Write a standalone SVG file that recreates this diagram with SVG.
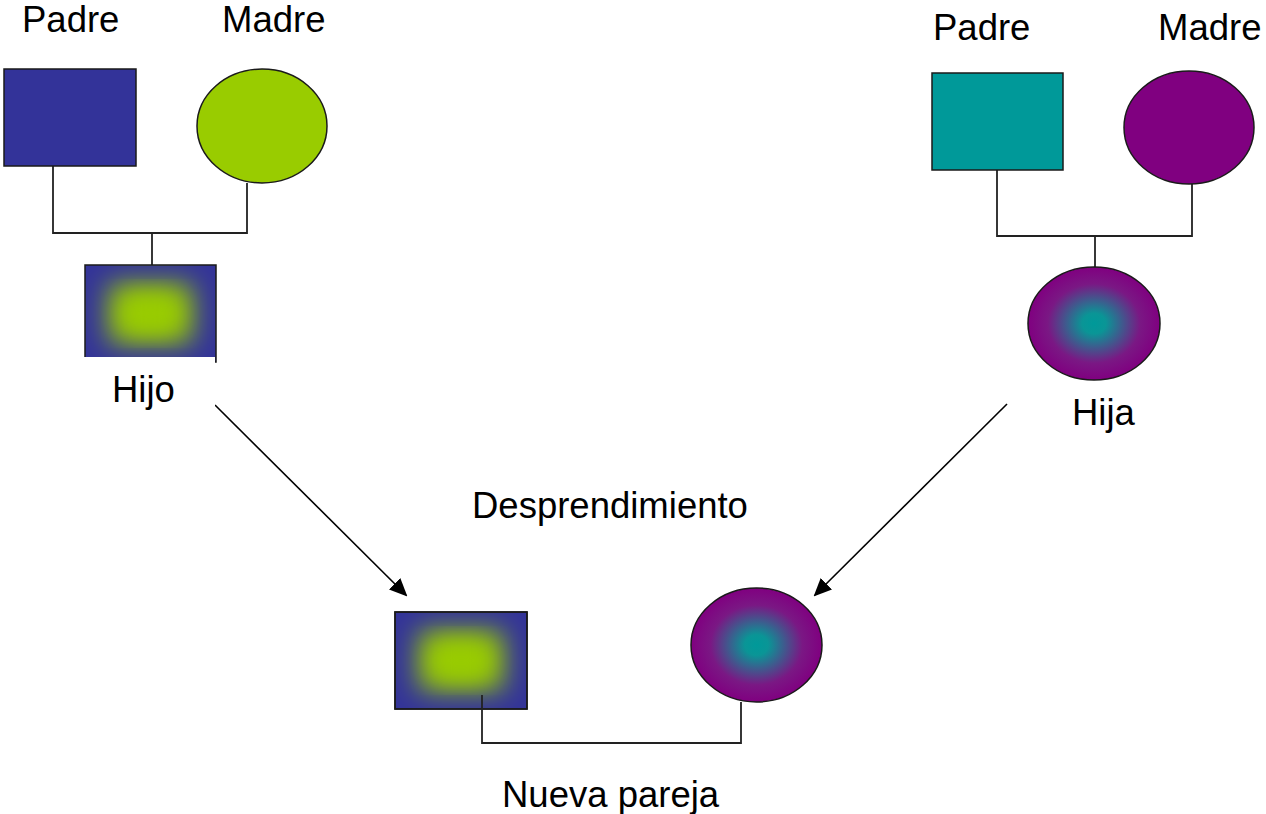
<svg xmlns="http://www.w3.org/2000/svg" width="1266" height="814" viewBox="0 0 1266 814">
  <style>
    .lbl { font-family: "Liberation Sans", Arial, sans-serif; font-size: 36.5px; fill: #000; }
    .shape { stroke: #1a1a1a; stroke-width: 1.5; }
    .conn { fill: none; stroke: #222; stroke-width: 1.8; }
    .arrow { fill: none; stroke: #000; stroke-width: 1.6; marker-end: url(#ah); }
  </style>
  <defs>
    <marker id="ah" markerWidth="18" markerHeight="16" refX="16" refY="8" orient="auto" markerUnits="userSpaceOnUse">
      <path d="M0,0 L18,8 L0,16 Z" fill="#000"/>
    </marker>
    <radialGradient id="hijaGrad" cx="0.5" cy="0.5" r="0.5">
      <stop offset="0" stop-color="#009999"/>
      <stop offset="0.18" stop-color="#0a9596"/>
      <stop offset="0.7" stop-color="#7a1884"/>
      <stop offset="1" stop-color="#800080"/>
    </radialGradient>
    <filter id="blur" x="-60%" y="-60%" width="220%" height="220%">
      <feGaussianBlur stdDeviation="14"/>
    </filter>
    <clipPath id="clipHijo"><rect x="85" y="265" width="131" height="97"/></clipPath>
    <clipPath id="clipHijo2"><rect x="395" y="612" width="132" height="97"/></clipPath>
  </defs>

  <rect width="1266" height="814" fill="#fff"/>

  <!-- connectors -->
  <g id="connectors">
    <path class="conn" d="M53,166 V233 H247 V183"/>
    <path class="conn" d="M152,233 V265"/>
    <path class="conn" d="M997,170 V236 H1192 V184"/>
    <path class="conn" d="M1095,236 V267"/>
    <line class="arrow" x1="215" y1="405" x2="406" y2="595"/>
    <line class="arrow" x1="1007" y1="404" x2="815" y2="595"/>
  </g>

  <g id="padre-izq">
    <rect class="shape" x="4" y="69" width="132" height="97" fill="#333399"/>
    <text class="lbl" x="22" y="32">Padre</text>
  </g>
  <g id="madre-izq">
    <ellipse class="shape" cx="262" cy="126" rx="65" ry="57" fill="#99cc00"/>
    <text class="lbl" x="222" y="32">Madre</text>
  </g>
  <g id="hijo">
    <rect class="shape" x="85" y="265" width="131" height="97" fill="#333399"/>
    <g clip-path="url(#clipHijo)">
      <rect x="109" y="284" width="83" height="59" fill="#99cc00" filter="url(#blur)"/>
      <rect x="128" y="298" width="45" height="31" fill="#99cc00" filter="url(#blur)"/>
    </g>
    <rect x="68" y="357" width="147" height="55" fill="#fff"/>
    <text class="lbl" x="112" y="402">Hijo</text>
  </g>

  <g id="padre-der">
    <rect class="shape" x="932" y="73" width="131" height="97" fill="#009999"/>
    <text class="lbl" x="933" y="40">Padre</text>
  </g>
  <g id="madre-der">
    <ellipse class="shape" cx="1189" cy="127.5" rx="65" ry="56.5" fill="#800080"/>
    <text class="lbl" x="1158" y="40">Madre</text>
  </g>
  <g id="hija">
    <ellipse class="shape" cx="1094" cy="323.5" rx="66" ry="56.5" fill="url(#hijaGrad)"/>
    <text class="lbl" x="1072" y="425">Hija</text>
  </g>

  <g id="desprendimiento">
    <text class="lbl" x="472" y="518">Desprendimiento</text>
  </g>

  <g id="pareja-hijo">
    <rect class="shape" x="395" y="612" width="132" height="97" fill="#333399"/>
    <g clip-path="url(#clipHijo2)">
      <rect x="419" y="631" width="84" height="59" fill="#99cc00" filter="url(#blur)"/>
      <rect x="438" y="645" width="46" height="31" fill="#99cc00" filter="url(#blur)"/>
    </g>
    <rect x="395" y="612" width="132" height="97" fill="none" stroke="#1a1a1a" stroke-width="1.5"/>
  </g>
  <g id="pareja-hija">
    <ellipse class="shape" cx="756.5" cy="645" rx="65.5" ry="57" fill="url(#hijaGrad)"/>
  </g>
  <g id="pareja-conn">
    <path class="conn" d="M482,695 V743 H741 V702"/>
    <text class="lbl" x="502" y="807">Nueva pareja</text>
  </g>
</svg>
